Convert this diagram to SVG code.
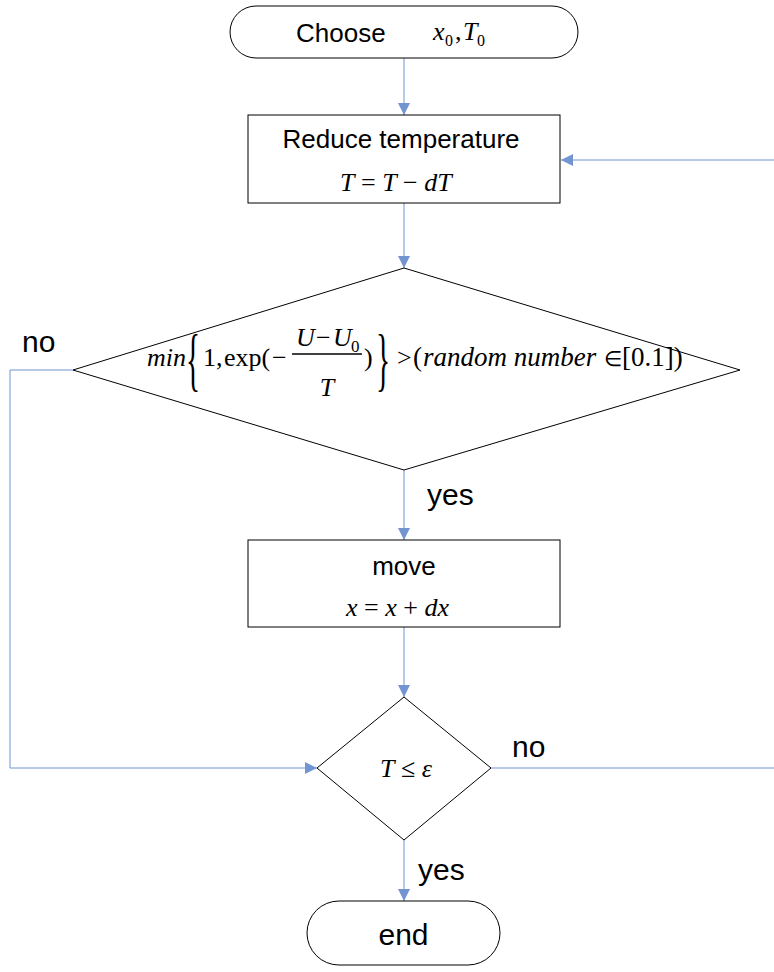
<svg xmlns="http://www.w3.org/2000/svg" width="774" height="972" viewBox="0 0 774 972">
<style>
.shape{fill:#fff;stroke:#000;stroke-width:1}
.conn{fill:none;stroke:#4472C4;stroke-width:1;opacity:0.75}
.sans{font-family:"Liberation Sans",Arial,sans-serif;fill:#000}
.serif{font-family:"Liberation Serif","Times New Roman",serif;fill:#000;font-size:26px}
.sub{font-size:16px}
.it{font-style:italic}
.brace{font-size:70px;font-weight:normal}
</style>
<defs>
<marker id="arr" markerUnits="userSpaceOnUse" markerWidth="14" markerHeight="12" refX="12" refY="6" orient="auto">
<path d="M0,0 L12,6 L0,12 Z" fill="#4472C4"/>
</marker>
</defs>
<rect width="774" height="972" fill="#fff"/>
<g id="connectors">
<line class="conn" x1="404" y1="58" x2="404" y2="115" marker-end="url(#arr)"/>
<line class="conn" x1="404" y1="203" x2="404" y2="268" marker-end="url(#arr)"/>
<line class="conn" x1="404" y1="470" x2="404" y2="540" marker-end="url(#arr)"/>
<line class="conn" x1="404" y1="627" x2="404" y2="697" marker-end="url(#arr)"/>
<line class="conn" x1="404" y1="840" x2="404" y2="901" marker-end="url(#arr)"/>
<polyline class="conn" points="73,370 10,370 10,768 317,768" marker-end="url(#arr)"/>
<polyline class="conn" points="491,768 776,768 776,160 561,160" marker-end="url(#arr)"/>
<text class="sans" x="22" y="352" font-size="30">no</text>
<text class="sans" x="427" y="505" font-size="30">yes</text>
<text class="sans" x="512" y="757" font-size="30">no</text>
<text class="sans" x="418" y="880" font-size="30">yes</text>
</g>
<g id="start">
<rect class="shape" x="230" y="6" width="348" height="52" rx="26" ry="26"/>
<text class="sans" x="296" y="42" font-size="26">Choose</text>
<text class="serif it" x="433" y="40">x</text>
<text class="serif sub" x="445" y="46">0</text>
<text class="serif" x="455" y="40">,</text>
<text class="serif it" x="463" y="40">T</text>
<text class="serif sub" x="477" y="46">0</text>
</g>
<g id="reduce">
<rect class="shape" x="248" y="115" width="312" height="88"/>
<text class="sans" x="401" y="148" font-size="26" text-anchor="middle">Reduce temperature</text>
<text class="serif" x="340" y="191"><tspan class="it">T</tspan> = <tspan class="it">T</tspan> − <tspan class="it">dT</tspan></text>
</g>
<g id="accept">
<polygon class="shape" points="404,268 740,370 404,470 73,370"/>
<text class="serif it" x="147" y="366">min</text>
<text class="serif brace" transform="translate(186,383) scale(0.42,1)">{</text>
<text class="serif" x="203" y="366">1,</text>
<text class="serif" x="224" y="366">exp(</text>
<text class="serif" x="272" y="366">−</text>
<line x1="292" y1="354" x2="362" y2="354" stroke="#000" stroke-width="1.3"/>
<text class="serif it" x="296" y="346">U</text>
<text class="serif" x="316" y="346">−</text>
<text class="serif it" x="333" y="346">U</text>
<text class="serif" x="351" y="352" style="font-size:17px">0</text>
<text class="serif it" x="327" y="396" text-anchor="middle">T</text>
<text class="serif" x="364" y="366">)</text>
<text class="serif brace" transform="translate(376,383) scale(0.42,1)">}</text>
<text class="serif" x="397" y="366">&gt;</text>
<text class="serif" x="413" y="366" style="font-size:27px">(</text>
<text class="serif it" x="423" y="366" style="font-size:27px">random number</text>
<text class="serif" x="604" y="366" style="font-size:21px">∈</text>
<text class="serif" x="622" y="366" style="font-size:27px">[0.1])</text>
</g>
<g id="move">
<rect class="shape" x="248" y="540" width="312" height="87"/>
<text class="sans" x="404" y="575" font-size="26" text-anchor="middle">move</text>
<text class="serif" x="346" y="616"><tspan class="it">x</tspan> = <tspan class="it">x</tspan> + <tspan class="it">dx</tspan></text>
</g>
<g id="check">
<polygon class="shape" points="404,697 491,768 404,840 317,768"/>
<text class="serif" x="380" y="777"><tspan class="it">T</tspan> ≤ <tspan class="it">ε</tspan></text>
</g>
<g id="end">
<rect class="shape" x="307" y="901" width="193" height="64" rx="32" ry="32"/>
<text class="sans" x="403.5" y="945" font-size="30" text-anchor="middle">end</text>
</g>
</svg>
